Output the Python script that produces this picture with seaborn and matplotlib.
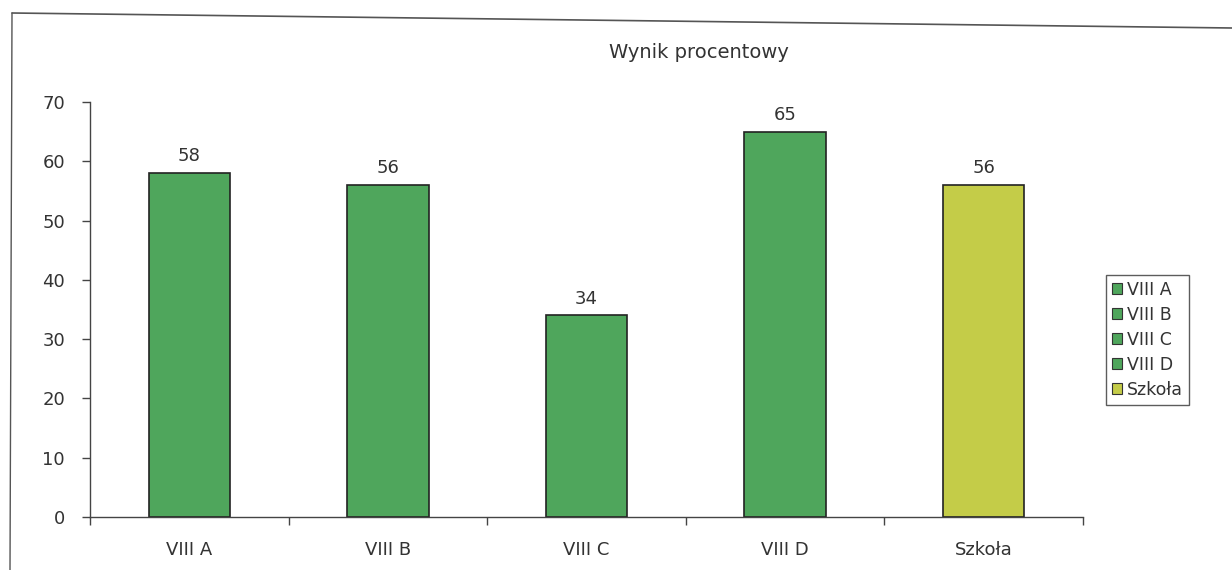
import pandas as pd
import seaborn as sns
import matplotlib.pyplot as plt
from matplotlib.lines import Line2D

# data
classes = ['VIII A', 'VIII B', 'VIII C', 'VIII D', 'Szkoła']
scores = [58, 56, 34, 65, 56]
colors = ['#4fa65c', '#4fa65c', '#4fa65c', '#4fa65c', '#c4cc48']

df = pd.DataFrame({'klasa': classes, 'wynik': scores})

sns.set_style('white')
plt.rcParams['font.family'] = ['DejaVu Sans']

fig = plt.figure(figsize=(12.32, 5.70), dpi=100)
ax = fig.add_axes([90 / 1232, 1 - 517 / 570, 993 / 1232, 415 / 570])

sns.barplot(data=df, x='klasa', y='wynik', hue='klasa', order=classes,
            hue_order=classes, palette=dict(zip(classes, colors)),
            saturation=1, dodge=False, width=0.41, edgecolor='#222222',
            linewidth=1.2, legend=True, ax=ax)

ax.set_xlim(-0.5, len(classes) - 0.5)
ax.set_ylim(0, 70)
ax.set_yticks(range(0, 71, 10))
ax.set_xlabel('')
ax.set_ylabel('')

# value labels
for i, v in enumerate(scores):
    ax.text(i, v + 1.3, str(v), ha='center', va='bottom', fontsize=13, color='#333333')

# axes like excel: only left and bottom spines
for s in ['top', 'right']:
    ax.spines[s].set_visible(False)
for s in ['left', 'bottom']:
    ax.spines[s].set_color('#444444')
    ax.spines[s].set_linewidth(1.0)

ax.tick_params(axis='y', direction='out', length=6, width=1, color='#444444',
               labelsize=13, labelcolor='#333333', pad=12, left=True)
ax.tick_params(axis='x', bottom=False, labelsize=13, labelcolor='#333333', pad=14)
# category boundary ticks
ax.set_xticks([i - 0.5 for i in range(len(classes) + 1)], minor=True)
ax.tick_params(axis='x', which='minor', bottom=True, direction='out', length=6,
               width=1, color='#444444')

# legend
leg = ax.legend(loc='upper left', bbox_to_anchor=(1106 / 1232, 1 - 275 / 570),
                bbox_transform=fig.transFigure, fontsize=12.5, frameon=True,
                fancybox=False, edgecolor='#333333', handlelength=0.6,
                handleheight=0.6, handletextpad=0.25, labelspacing=0.4,
                borderpad=0.35, borderaxespad=0)
for h in leg.legend_handles:
    h.set_edgecolor('#333333')
    h.set_linewidth(0.8)
for t in leg.get_texts():
    t.set_color('#333333')

fig.text(699 / 1232, 1 - 52 / 570, 'Wynik procentowy', ha='center', va='center',
         fontsize=14, color='#333333')

# chart area frame from the scan
fig.add_artist(Line2D([12 / 1232, 1.0], [1 - 13 / 570, 1 - 28 / 570],
                      transform=fig.transFigure, color='#555555', lw=1.2))
fig.add_artist(Line2D([12 / 1232, 10 / 1232], [1 - 13 / 570, 0.0],
                      transform=fig.transFigure, color='#555555', lw=1.0))

plt.savefig('out.png', dpi=100)
